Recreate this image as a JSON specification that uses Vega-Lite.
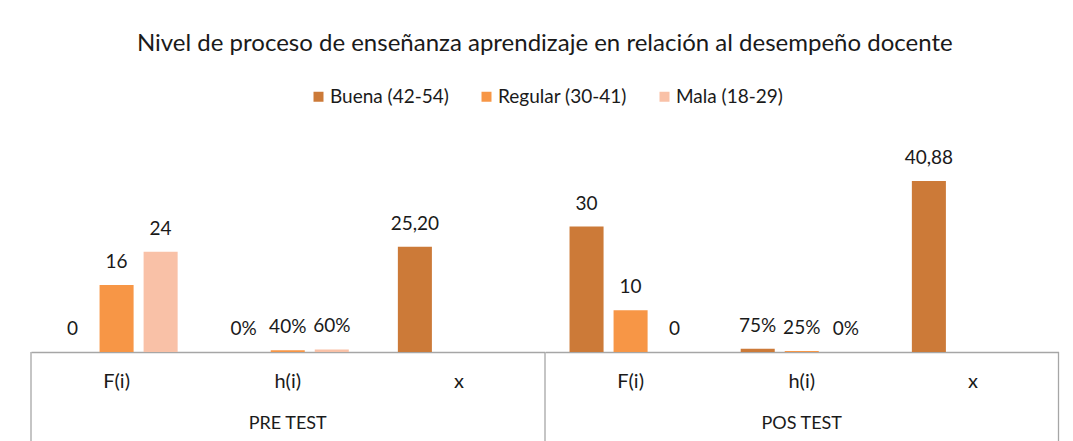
{
  "$schema": "https://vega.github.io/schema/vega-lite/v6.json",
  "padding": {"left": 30, "top": 32, "right": 16, "bottom": 0},
  "title": {"text": "Nivel de proceso de enseñanza aprendizaje en relación al desempeño docente", "font": "Lato", "fontSize": 24, "fontWeight": "normal", "color": "#1a1a1a", "anchor": "middle", "offset": 31},
  "data": {"values": [
    {"grupo": "PRE TEST", "cat": "F(i)", "serie": "Buena (42-54)", "valor": 0, "etiqueta": "0"},
    {"grupo": "PRE TEST", "cat": "F(i)", "serie": "Regular (30-41)", "valor": 16, "etiqueta": "16"},
    {"grupo": "PRE TEST", "cat": "F(i)", "serie": "Mala (18-29)", "valor": 24, "etiqueta": "24"},
    {"grupo": "PRE TEST", "cat": "h(i)", "serie": "Buena (42-54)", "valor": 0, "etiqueta": "0%"},
    {"grupo": "PRE TEST", "cat": "h(i)", "serie": "Regular (30-41)", "valor": 0.4, "etiqueta": "40%"},
    {"grupo": "PRE TEST", "cat": "h(i)", "serie": "Mala (18-29)", "valor": 0.6, "etiqueta": "60%"},
    {"grupo": "PRE TEST", "cat": "x", "serie": "Buena (42-54)", "valor": 25.2, "etiqueta": "25,20"},
    {"grupo": "POS TEST", "cat": "F(i)", "serie": "Buena (42-54)", "valor": 30, "etiqueta": "30"},
    {"grupo": "POS TEST", "cat": "F(i)", "serie": "Regular (30-41)", "valor": 10, "etiqueta": "10"},
    {"grupo": "POS TEST", "cat": "F(i)", "serie": "Mala (18-29)", "valor": 0, "etiqueta": "0"},
    {"grupo": "POS TEST", "cat": "h(i)", "serie": "Buena (42-54)", "valor": 0.75, "etiqueta": "75%"},
    {"grupo": "POS TEST", "cat": "h(i)", "serie": "Regular (30-41)", "valor": 0.25, "etiqueta": "25%"},
    {"grupo": "POS TEST", "cat": "h(i)", "serie": "Mala (18-29)", "valor": 0, "etiqueta": "0%"},
    {"grupo": "POS TEST", "cat": "x", "serie": "Buena (42-54)", "valor": 40.88, "etiqueta": "40,88"}
  ]},
  "facet": {"column": {"field": "grupo", "type": "nominal", "sort": ["PRE TEST", "POS TEST"], "header": null}},
  "spacing": 0,
  "bounds": "flush",
  "spec": {
    "width": 513.5,
    "height": 209,
    "encoding": {
      "x": {"field": "cat", "type": "nominal", "sort": ["F(i)", "h(i)", "x"], "scale": {"paddingInner": 0, "paddingOuter": 0},
        "axis": {"title": null, "ticks": false, "labelAngle": 0, "labelPadding": 19, "labelFontSize": 20, "labelFont": "Lato", "labelColor": "#1a1a1a", "domainColor": "#a6a6a6", "domainWidth": 1.3}}
    },
    "layer": [
      {
        "mark": {"type": "bar"},
        "encoding": {
          "xOffset": {"field": "serie", "type": "nominal", "scale": {"domain": ["Buena (42-54)", "Regular (30-41)", "Mala (18-29)"], "paddingInner": 0.227, "paddingOuter": 0.557}},
          "y": {"field": "valor", "type": "quantitative", "scale": {"domain": [0, 50]}, "axis": null},
          "color": {"field": "serie", "type": "nominal", "scale": {"domain": ["Buena (42-54)", "Regular (30-41)", "Mala (18-29)"], "range": ["#cc7a38", "#f79646", "#f9c1a7"]},
            "legend": {"orient": "none", "legendX": 278, "legendY": -56, "direction": "horizontal", "title": null, "symbolType": "square", "symbolSize": 100, "symbolStrokeWidth": 0, "labelFontSize": 19, "labelFont": "Lato", "labelColor": "#1a1a1a", "columnPadding": 28, "labelOffset": 2}}
        }
      },
      {
        "mark": {"type": "text", "baseline": "middle", "dy": -23, "fontSize": 19, "font": "Lato", "color": "#1a1a1a"},
        "encoding": {
          "xOffset": {"field": "serie", "type": "nominal"},
          "y": {"field": "valor", "type": "quantitative"},
          "text": {"field": "etiqueta"}
        }
      },
      {
        "transform": [{"filter": "datum.cat == 'F(i)' && datum.serie == 'Buena (42-54)'"}],
        "mark": {"type": "rule", "color": "#a6a6a6", "strokeWidth": 1.3, "clip": false},
        "encoding": {
          "x": {"field": "cat", "type": "nominal", "bandPosition": 0},
          "y": {"datum": -21.6},
          "y2": {"datum": 0}
        }
      },
      {
        "transform": [{"filter": "datum.grupo == 'POS TEST' && datum.cat == 'x'"}],
        "mark": {"type": "rule", "color": "#a6a6a6", "strokeWidth": 1.3, "clip": false},
        "encoding": {
          "x": {"field": "cat", "type": "nominal", "bandPosition": 1},
          "y": {"datum": -21.6},
          "y2": {"datum": 0}
        }
      },
      {
        "transform": [{"filter": "datum.cat == 'h(i)' && datum.serie == 'Buena (42-54)'"}],
        "mark": {"type": "text", "baseline": "middle", "fontSize": 18, "font": "Lato", "color": "#1a1a1a"},
        "encoding": {
          "y": {"datum": -17.2},
          "text": {"field": "grupo"}
        }
      }
    ]
  },
  "config": {"view": {"stroke": null}}
}
